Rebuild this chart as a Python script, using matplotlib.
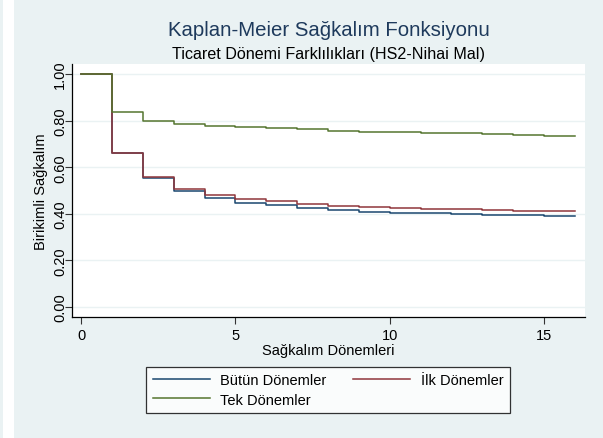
import matplotlib

matplotlib.use("Agg")
import matplotlib.pyplot as plt
from matplotlib.patches import Rectangle
import numpy as np

plt.rcParams["font.family"] = ["Liberation Sans", "DejaVu Sans"]

# survival estimates at the start of each period (0..15), held until 16
periods = list(range(0, 17))
butun = [1.000, 0.661, 0.553, 0.498, 0.469, 0.448, 0.436, 0.425,
         0.416, 0.409, 0.405, 0.402, 0.398, 0.396, 0.393, 0.392]
ilk = [1.000, 0.659, 0.557, 0.508, 0.481, 0.462, 0.454, 0.443,
       0.433, 0.429, 0.425, 0.422, 0.419, 0.418, 0.413, 0.412]
tek = [1.000, 0.836, 0.800, 0.784, 0.778, 0.771, 0.768, 0.764,
       0.755, 0.751, 0.750, 0.747, 0.745, 0.742, 0.738, 0.735]

series_labels = ["Bütün Dönemler", "İlk Dönemler", "Tek Dönemler"]
y_ticks = [0.0, 0.2, 0.4, 0.6, 0.8, 1.0]
x_ticks = [0, 5, 10, 15]

BG = "#eaf2f3"
NAVY = "#1a476f"
MAROON = "#90353b"
GREEN = "#55752f"

fig = plt.figure(figsize=(6.03, 4.39), dpi=100, facecolor=BG)
fig.patches.append(Rectangle((3 / 603, 0), 11 / 603, 1, transform=fig.transFigure,
                             facecolor="white", edgecolor="none", zorder=0))

ax = fig.add_axes([72 / 603, 1 - 318 / 439, (585 - 72) / 603, (318 - 65) / 439])
ax.set_facecolor("white")


def extend(vals):
    return np.append(vals, vals[-1])


lines = {}
for vals, color, label in zip([butun, ilk, tek], [NAVY, MAROON, GREEN], series_labels):
    (lines[label],) = ax.step(periods, extend(vals), where="post", color=color, lw=1.1, label=label)

ax.set_xlim(-0.3, 16.33)
ax.set_ylim(-0.043, 1.043)
ax.set_yticks(y_ticks)
ax.set_yticklabels([f"{v:.2f}" for v in y_ticks], rotation=90, va="center", fontsize=10.5)
ax.set_xticks(x_ticks)
ax.set_xticklabels([str(v) for v in x_ticks], fontsize=10.5)
ax.tick_params(direction="out", length=5, width=0.8, color="#333333", pad=3)
ax.tick_params(axis="y", pad=-1.5)
ax.grid(axis="y", color=BG, lw=1.0)
ax.set_axisbelow(True)
for side in ["top", "right"]:
    ax.spines[side].set_visible(False)
for side in ["left", "bottom"]:
    ax.spines[side].set_color("black")
    ax.spines[side].set_linewidth(0.9)

ax.set_ylabel("Birikimli Sağkalım", fontsize=10.5, labelpad=4)
ax.set_xlabel("Sağkalım Dönemleri", fontsize=10.5, labelpad=1)

# titles sit over the middle of the plot area
title_x = (72 + 585) / 2 / 603
fig.text(title_x, 1 - 36 / 439, "Kaplan-Meier Sağkalım Fonksiyonu", ha="center", va="baseline",
         fontsize=14.7, color="#1e3a5c")
fig.text(title_x, 1 - 58.5 / 439, "Ticaret Dönemi Farklılıkları (HS2-Nihai Mal)", ha="center",
         va="baseline", fontsize=11.6, color="black")

# legend fills column-wise, so order entries to read row by row
order = ["Bütün Dönemler", "Tek Dönemler", "İlk Dönemler"]
leg = fig.legend([lines[k] for k in order], order, ncol=2, loc="center",
                 bbox_to_anchor=(328 / 603, 1 - 391 / 439),
                 fontsize=10.5, frameon=True, fancybox=False, edgecolor="black",
                 handlelength=3.9, columnspacing=1.8, handletextpad=0.75,
                 borderpad=0.45, labelspacing=0.35)
leg.get_frame().set_linewidth(0.9)

fig.savefig("out.png", dpi=100, facecolor=BG)
